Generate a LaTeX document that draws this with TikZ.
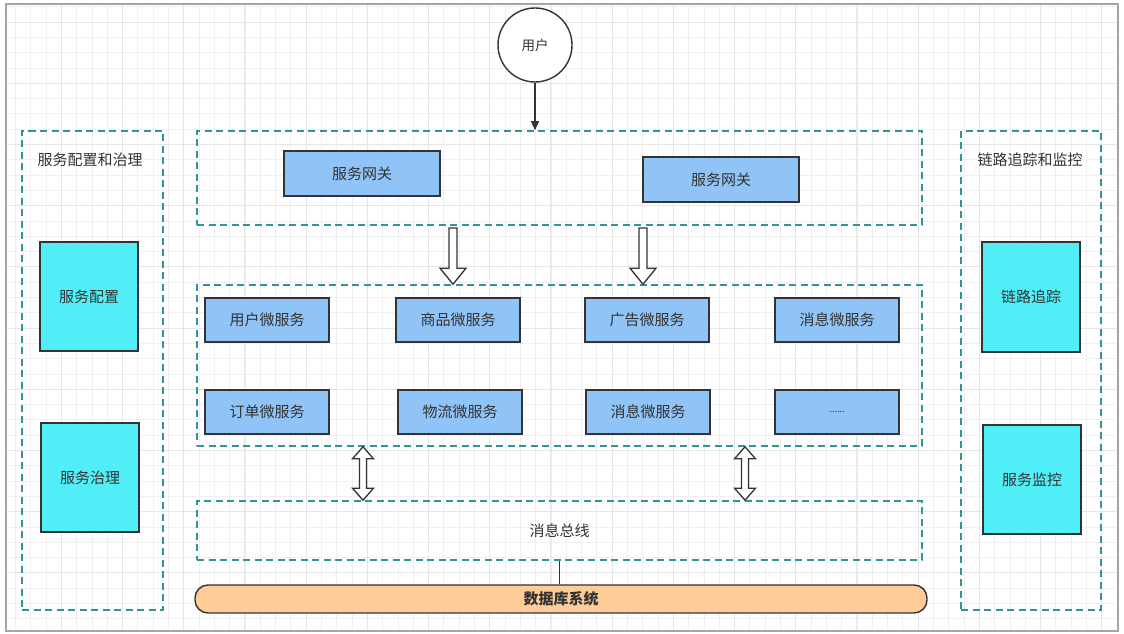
\documentclass[tikz,border=0pt]{standalone}
\usepackage{fontspec}
\setmainfont{Noto Sans CJK SC}
\usepackage{tikz}
\usetikzlibrary{arrows.meta,positioning,calc}
\definecolor{archTeal}{HTML}{2E9696}
\definecolor{archBlue}{HTML}{90C3F6}
\definecolor{archCyan}{HTML}{52EEF8}
\definecolor{archSand}{HTML}{FFCC99}
\definecolor{archInk}{HTML}{333333}
\definecolor{archGrid}{HTML}{F0F0F0}
\definecolor{archGridMajor}{HTML}{E6E6E6}

\tikzset{
  zone/.style={draw=archTeal,line width=1.6pt,dash pattern=on 7pt off 4.5pt,
               minimum width=#1},
  svcbox/.style={draw=archInk,line width=1.4pt,fill=archBlue,
                 minimum width=124pt,minimum height=44pt,text=archInk},
  sidebox/.style={draw=archInk,line width=1.4pt,fill=archCyan,
                  minimum width=98pt,minimum height=109pt,text=archInk},
  hollowarrow/.style={draw=archInk,line width=1.3pt,fill=white,line join=miter},
}
% hollow arrows, drawn from one anchor to another
\newcommand\hollowdown[2]{%
  \draw[hollowarrow] let \p1=(#1), \p2=(#2) in
    (\x1-4pt,\y1) -- (\x1-4pt,\y2+16pt) -- (\x1-13pt,\y2+16pt) -- (\x1,\y2)
    -- (\x1+13pt,\y2+16pt) -- (\x1+4pt,\y2+16pt) -- (\x1+4pt,\y1) -- cycle;}
\newcommand\hollowboth[2]{%
  \draw[hollowarrow] let \p1=(#1), \p2=(#2) in
    (\x1,\y1) -- (\x1+10.5pt,\y1-12pt) -- (\x1+3.5pt,\y1-12pt) -- (\x1+3.5pt,\y2+12pt)
    -- (\x1+10.5pt,\y2+12pt) -- (\x1,\y2) -- (\x1-10.5pt,\y2+12pt) -- (\x1-3.5pt,\y2+12pt)
    -- (\x1-3.5pt,\y1-12pt) -- (\x1-10.5pt,\y1-12pt) -- cycle;}

\begin{document}
\begin{tikzpicture}[x=1pt,y=1pt,font=\fontsize{15}{17}\selectfont,text=archInk]
  \useasboundingbox (0,0) rectangle (1124,634);
  \fill[white] (0,0) rectangle (1124,634);
  % background grid
  \draw[archGrid,line width=0.6pt,step=15.3] (6,4) grid (1118,630);
  \draw[archGridMajor,line width=0.8pt,step=61.2] (6,4) grid (1118,630);
  \draw[gray!70,line width=1.5pt] (6,3) rectangle (1118,630);

  % user and gateway
  \node[circle,draw=archInk,line width=1.4pt,fill=white,minimum size=74pt,
        font=\fontsize{13.5}{15}\selectfont] (user) at (535,589) {用户};
  \node[zone=725pt,minimum height=94pt] (gwzone) at (559.5,456) {};
  \node[svcbox,minimum width=156pt,minimum height=45pt] (gw1) at (362,460.5) {服务网关};
  \node[svcbox,minimum width=156pt,minimum height=45pt] (gw2) at (721,454.5) {服务网关};

  % microservices
  \node[zone=725pt,minimum height=161pt] (mszone) at (559.5,268.5) {};
  \node[svcbox] (msuser)  at (267,314) {用户微服务};
  \node[svcbox] (msgoods) at (458,314) {商品微服务};
  \node[svcbox] (msads)   at (647,314) {广告微服务};
  \node[svcbox] (msmsg)   at (837,314) {消息微服务};
  \node[svcbox] (msorder) at (267,222) {订单微服务};
  \node[svcbox] (msship)  at (460,222) {物流微服务};
  \node[svcbox] (msnote)  at (648,222) {消息微服务};
  \node[svcbox,font=\fontsize{9}{10}\selectfont] (msmore) at (837,222) {......};

  % bus and database
  \node[zone=725pt,minimum height=59pt] (buszone) at (559.5,103.5) {消息总线};
  \node[draw=archInk,line width=1.4pt,fill=archSand,rounded corners=13pt,
        minimum width=732pt,minimum height=28pt,font=\fontsize{15}{17}\selectfont\bfseries]
        (db) at (561,35) {数据库系统};

  % side columns
  \node[zone=141pt,minimum height=479pt] (cfgzone) at (92.5,263.5) {};
  \node at (90,474) {服务配置和治理};
  \node[sidebox] (cfg) at (89,337.5) {服务配置};
  \node[sidebox] (gov) at (90,156.5) {服务治理};
  \node[zone=140pt,minimum height=479pt] (tracezone) at (1031,263.5) {};
  \node at (1030,474) {链路追踪和监控};
  \node[sidebox,minimum height=110pt] (trace) at (1031,337) {链路追踪};
  \node[sidebox] (mon) at (1032,154.5) {服务监控};

  % connectors
  \draw[archInk,line width=1.4pt,-{Triangle[length=9pt,width=8pt]}]
    (user) -- (user |- gwzone.north);
  \coordinate (downA) at (453,406);
  \coordinate (downB) at (643,406);
  \hollowdown{downA}{downA |- mszone.north}
  \hollowdown{downB}{downB |- mszone.north}
  \coordinate (bothA) at (363,0);
  \coordinate (bothB) at (745,0);
  \hollowboth{bothA |- mszone.south}{bothA |- buszone.north}
  \hollowboth{bothB |- mszone.south}{bothB |- buszone.north}
  \draw[archInk,line width=1.4pt] (buszone.south) -- (buszone.south |- db.north);
\end{tikzpicture}
\end{document}
